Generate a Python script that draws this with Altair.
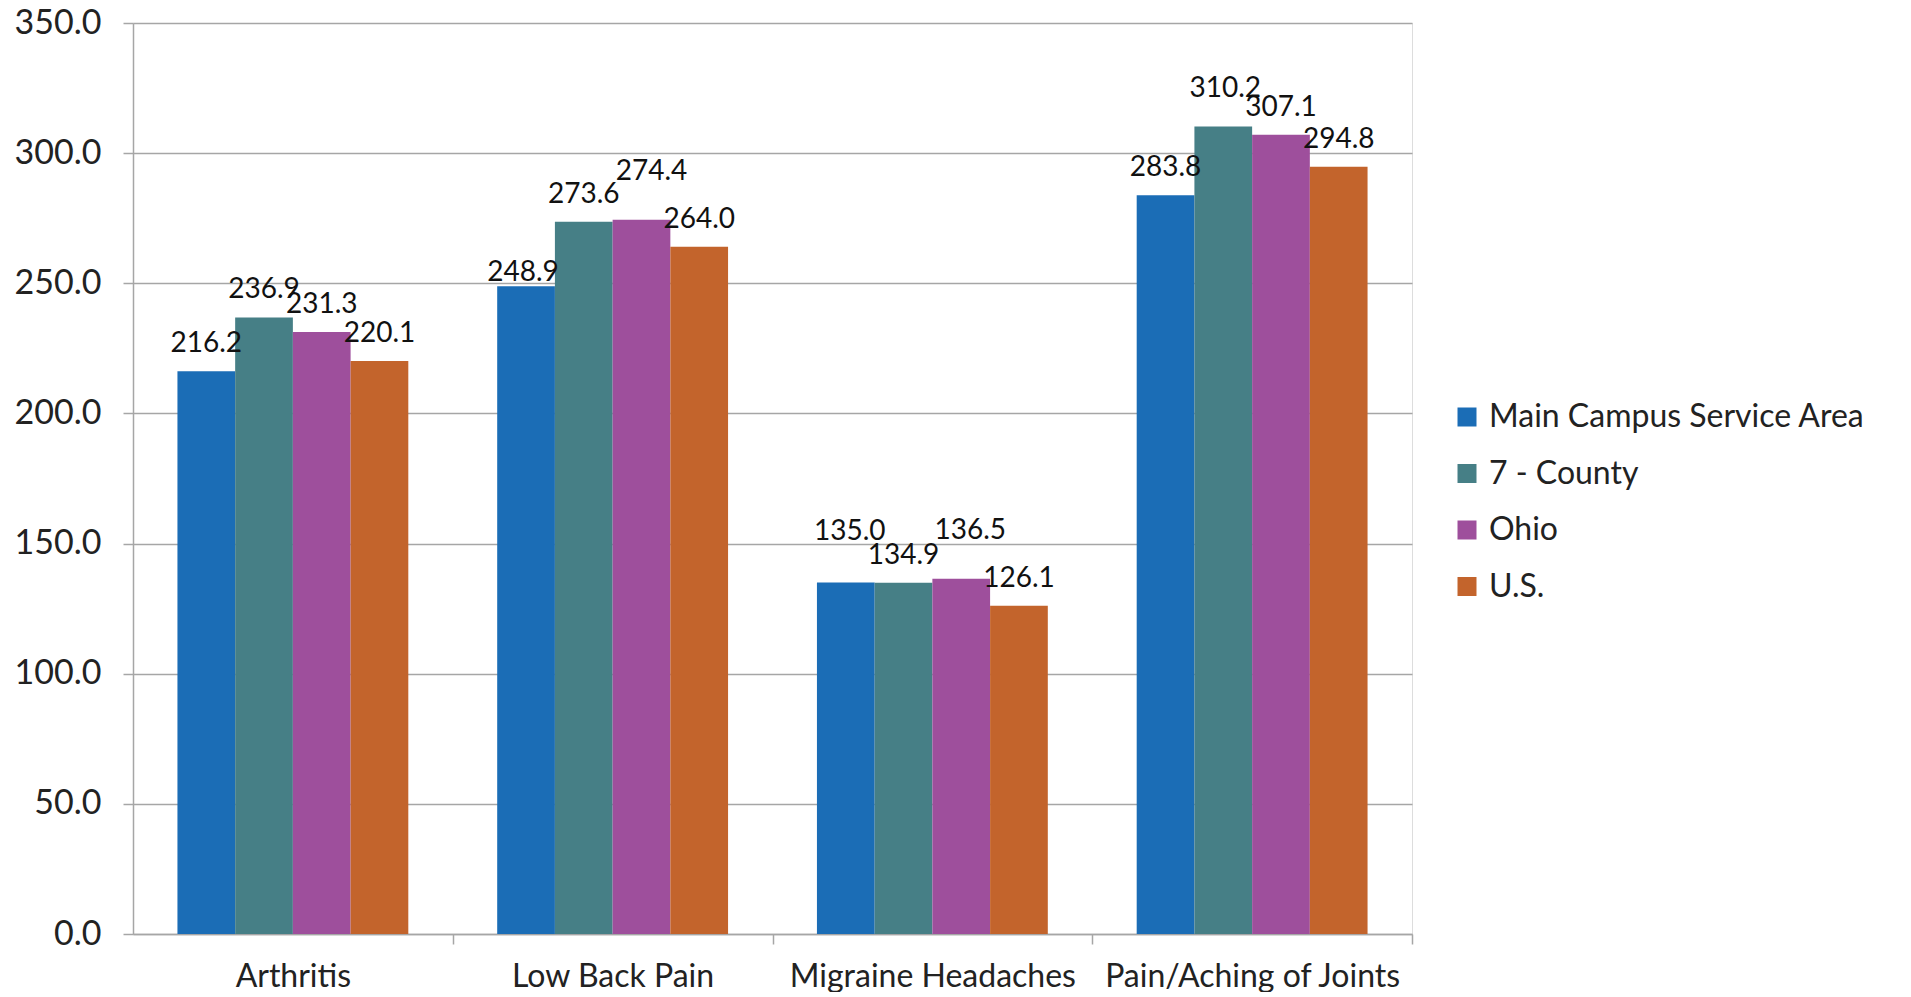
import altair as alt
import pandas as pd

categories = ["Arthritis", "Low Back Pain", "Migraine Headaches", "Pain/Aching of Joints"]
series = ["Main Campus Service Area", "7 - County", "Ohio", "U.S."]
colors = ["#1B6DB6", "#467F86", "#9E4F9C", "#C3642C"]

main_campus = [216.2, 248.9, 135.0, 283.8]
seven_county = [236.9, 273.6, 134.9, 310.2]
ohio = [231.3, 274.4, 136.5, 307.1]
us = [220.1, 264.0, 126.1, 294.8]

y_ticks = [0, 50, 100, 150, 200, 250, 300, 350]

rows = []
for s, vals in zip(series, [main_campus, seven_county, ohio, us]):
    for c, v in zip(categories, vals):
        rows.append({"Category": c, "Series": s, "Value": v})
df = pd.DataFrame(rows)

FONT = "Lato"
W, H = 1279, 911
P_IN = 0.278
P_OUT = 0.139
step = W / (len(categories) - P_IN + 2 * P_OUT)
half_gap = step * P_IN / 2

# label placement nudges (style), mimicking the spreadsheet's collision-avoiding placement
LABEL_DY = -19
nudges = [
    ("Low Back Pain", "Main Campus Service Area", -3, 14),
    ("Low Back Pain", "Ohio", 10, -21),
    ("Migraine Headaches", "Main Campus Service Area", 4, -24),
    ("Migraine Headaches", "Ohio", 9, -21),
    ("Pain/Aching of Joints", "7 - County", 2, -11),
]

x_enc = alt.X(
    "Category:N",
    sort=categories,
    scale=alt.Scale(paddingInner=P_IN, paddingOuter=P_OUT),
    axis=alt.Axis(
        title=None,
        labelAngle=0,
        labelFont=FONT,
        labelFontSize=32,
        labelColor="#222222",
        labelPadding=17,
        labelLimit=0,
        tickSize=10,
        tickColor="#A6A6A6",
        tickWidth=1.5,
        domainColor="#A6A6A6",
        domainWidth=1.5,
        bandPosition=1,
        tickOffset=half_gap,
        labelOffset=-half_gap,
        grid=False,
    ),
)

base = alt.Chart(df).encode(
    x=x_enc,
    xOffset=alt.XOffset("Series:N", sort=series, scale=alt.Scale(paddingInner=0, paddingOuter=0)),
)

bars = base.mark_bar().encode(
    y=alt.Y(
        "Value:Q",
        scale=alt.Scale(domain=[0, 350], nice=False),
        axis=alt.Axis(
            title=None,
            values=y_ticks,
            format=".1f",
            labelFont=FONT,
            labelFontSize=34,
            labelColor="#222222",
            labelPadding=22,
            tickSize=10,
            tickColor="#A6A6A6",
            tickWidth=1.5,
            domainColor="#A6A6A6",
            domainWidth=1.5,
            gridColor="#A6A6A6",
            gridWidth=1.5,
        ),
    ),
    color=alt.Color(
        "Series:N",
        sort=series,
        scale=alt.Scale(domain=series, range=colors),
        legend=alt.Legend(
            title=None,
            orient="none",
            legendX=1318,
            legendY=378,
            symbolType="square",
            symbolSize=361,
            symbolStrokeWidth=0,
            labelFont=FONT,
            labelFontSize=32,
            labelColor="#222222",
            labelOffset=6,
            labelLimit=0,
            rowPadding=24.5,
        ),
    ),
)

text_kw = dict(font=FONT, fontSize=28, color="#111111", baseline="alphabetic")

nudge_filter = " || ".join(
    f"(datum.Category == '{c}' && datum.Series == '{s}')" for c, s, _, _ in nudges
)

layers = [
    bars,
    base.transform_filter(f"!({nudge_filter})")
    .mark_text(dy=LABEL_DY, **text_kw)
    .encode(y="Value:Q", text=alt.Text("Value:Q", format=".1f")),
]
for c, s, ddx, ddy in nudges:
    layers.append(
        base.transform_filter(f"datum.Category == '{c}' && datum.Series == '{s}'")
        .mark_text(dx=ddx, dy=LABEL_DY + ddy, **text_kw)
        .encode(y="Value:Q", text=alt.Text("Value:Q", format=".1f"))
    )

chart = (
    alt.layer(*layers)
    .properties(
        width=W,
        height=H,
        autosize=alt.AutoSizeParams(type="none"),
        padding={"left": 125, "top": 15, "right": 480, "bottom": 58},
    )
    .configure_view(stroke=None)
    .configure(background="white")
)

chart.save("out.html", embed_options={"renderer": "svg", "actions": False})
